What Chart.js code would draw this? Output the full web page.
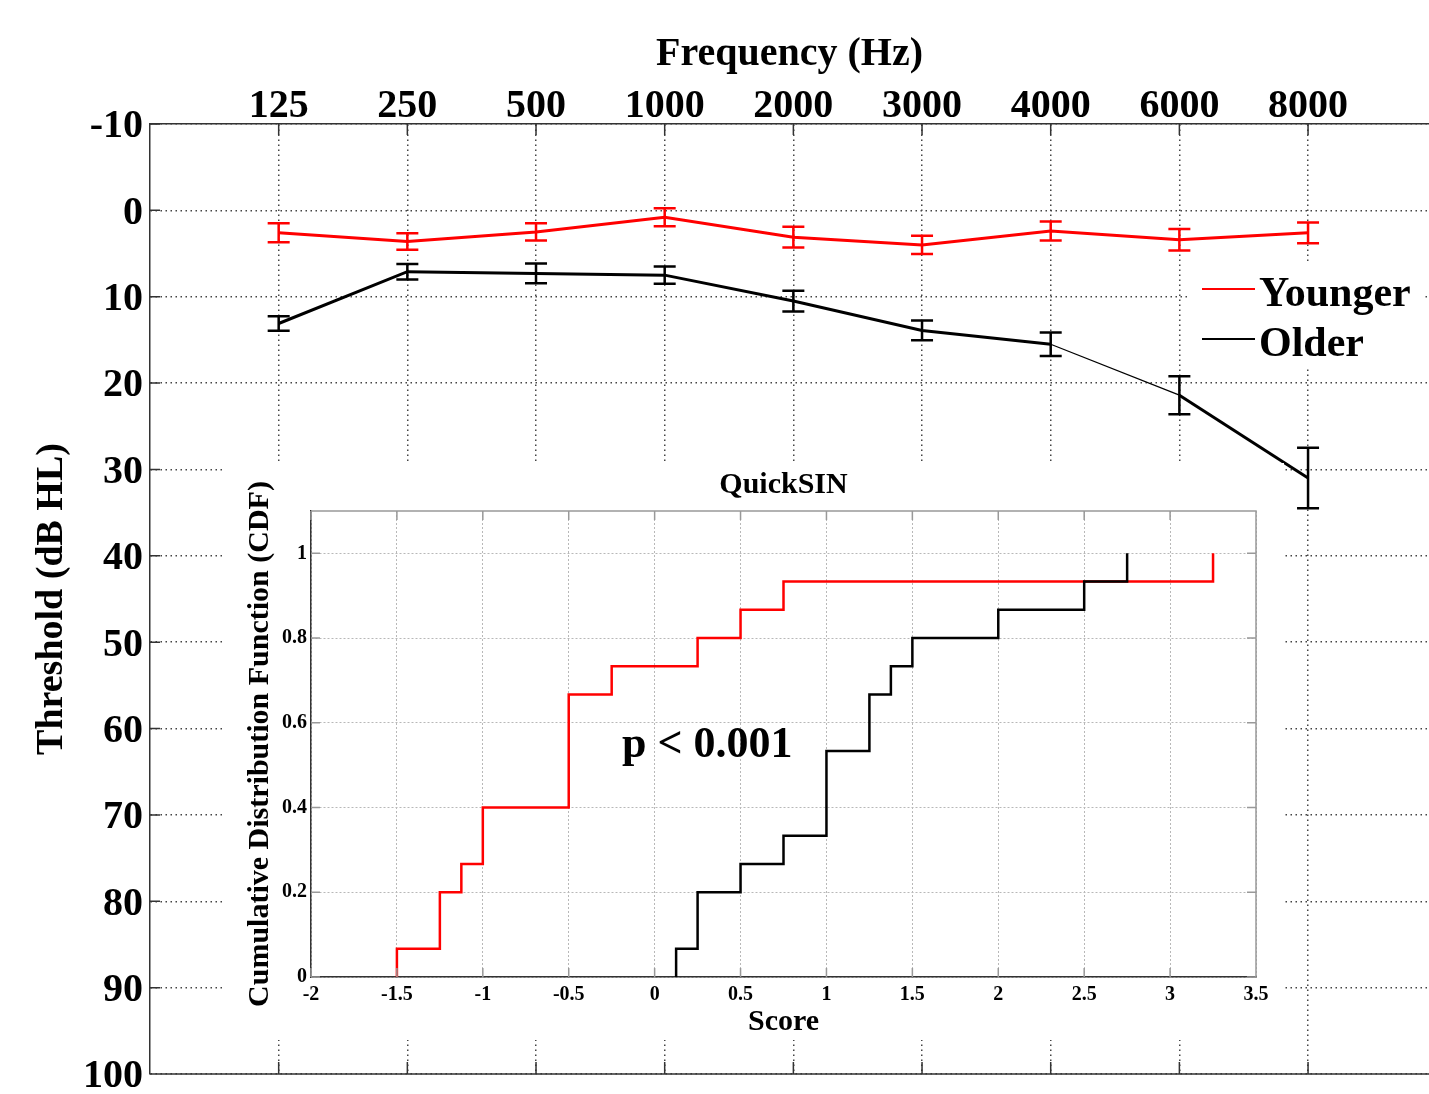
<!DOCTYPE html>
<html>
<head>
<meta charset="utf-8">
<title>Audiogram and QuickSIN</title>
<script src="https://cdn.jsdelivr.net/npm/chart.js@4.4.1/dist/chart.umd.min.js"></script>
<style>
  html, body { margin: 0; padding: 0; background: #fff; overflow: hidden; }
  #wrap { position: relative; width: 1429px; height: 1094px; }
  #mainChart { position: absolute; left: 0; top: 0; }
  #insetChart { position: absolute; left: 224px; top: 463px; background: #fff; }
</style>
</head>
<body>
<div id="wrap">
  <canvas id="mainChart" width="1429" height="1094"></canvas>
  <canvas id="insetChart" width="1060" height="577"></canvas>
</div>
<script>
// audiogram data (dB HL, mean and error)
const freqLabels = ['125', '250', '500', '1000', '2000', '3000', '4000', '6000', '8000'];
const thresholdTicks = [-10, 0, 10, 20, 30, 40, 50, 60, 70, 80, 90, 100];
const youngerMean = [2.6, 3.6, 2.5, 0.8, 3.1, 4.0, 2.4, 3.4, 2.6];
const youngerErr = [1.1, 0.95, 1.0, 1.05, 1.2, 1.05, 1.1, 1.25, 1.2];
const olderMean = [13.1, 7.1, 7.3, 7.5, 10.5, 13.9, 15.5, 21.4, 31.0];
const olderErr = [0.85, 0.9, 1.15, 1.0, 1.2, 1.15, 1.35, 2.2, 3.5];

// QuickSIN CDF steps (score where the step happens, level after it)
const scoreTicks = [-2, -1.5, -1, -0.5, 0, 0.5, 1, 1.5, 2, 2.5, 3, 3.5];
const cdfTicks = [0, 0.2, 0.4, 0.6, 0.8, 1];
const youngerScore = [-1.5, -1.25, -1.125, -1, -0.5, -0.25, 0.25, 0.5, 0.75, 3.25];
const youngerCdf = [0.0667, 0.2, 0.2667, 0.4, 0.6667, 0.7333, 0.8, 0.8667, 0.9333, 1.0];
const olderScore = [0.125, 0.25, 0.5, 0.75, 1.0, 1.25, 1.375, 1.5, 2.0, 2.5, 2.75];
const olderCdf = [0.0667, 0.2, 0.2667, 0.3333, 0.5333, 0.6667, 0.7333, 0.8, 0.8667, 0.9333, 1.0];

const serif = "'Liberation Serif', 'Times New Roman', serif";
const RED = '#ff0000';
const BLACK = '#000000';

// stairs: start at zero on the first score
function stairs(scores, levels) {
  const pts = [{ x: scores[0], y: 0 }];
  scores.forEach((s, i) => pts.push({ x: s, y: levels[i] }));
  return pts;
}

// error bars with caps
const errorBars = {
  id: 'errorBars',
  afterDatasetsDraw(chart) {
    const ctx = chart.ctx;
    const ys = chart.scales.y;
    chart.data.datasets.forEach((ds, i) => {
      const meta = chart.getDatasetMeta(i);
      ctx.save();
      ctx.strokeStyle = ds.borderColor;
      ctx.lineWidth = 2.5;
      meta.data.forEach((pt, j) => {
        const e = ds.errors[j];
        const y1 = ys.getPixelForValue(ds.data[j].y - e);
        const y2 = ys.getPixelForValue(ds.data[j].y + e);
        ctx.beginPath();
        ctx.moveTo(pt.x, y1); ctx.lineTo(pt.x, y2);
        ctx.moveTo(pt.x - 11, y1); ctx.lineTo(pt.x + 11, y1);
        ctx.moveTo(pt.x - 11, y2); ctx.lineTo(pt.x + 11, y2);
        ctx.stroke();
      });
      ctx.restore();
    });
  }
};

// bottom border, inward ticks and the legend for the audiogram
const mainFrame = {
  id: 'mainFrame',
  afterDraw(chart) {
    const ctx = chart.ctx, a = chart.chartArea;
    const xs = chart.scales.x, ys = chart.scales.y;
    ctx.save();
    ctx.strokeStyle = '#333';
    ctx.lineWidth = 1.5;
    ctx.beginPath();
    ctx.moveTo(a.left, a.bottom); ctx.lineTo(a.right, a.bottom);
    xs.ticks.forEach(t => {
      const x = xs.getPixelForValue(t.value);
      ctx.moveTo(x, a.top); ctx.lineTo(x, a.top + 11);
      ctx.moveTo(x, a.bottom); ctx.lineTo(x, a.bottom - 12);
    });
    ys.ticks.forEach(t => {
      const y = ys.getPixelForValue(t.value);
      ctx.moveTo(a.left, y); ctx.lineTo(a.left + 10, y);
    });
    ctx.stroke();

    // legend
    ctx.fillStyle = '#fff';
    ctx.fillRect(1190, 263, 232, 103);
    ctx.font = 'bold 42px ' + serif;
    ctx.textBaseline = 'alphabetic';
    chart.data.datasets.forEach((ds, i) => {
      const y = 289 + i * 50;
      ctx.strokeStyle = ds.borderColor;
      ctx.lineWidth = 1.8;
      ctx.beginPath(); ctx.moveTo(1202, y); ctx.lineTo(1255, y); ctx.stroke();
      ctx.fillStyle = '#000';
      ctx.fillText(ds.label, 1259, y + 17);
    });
    ctx.restore();
  }
};

// box, inward ticks and p-value note for the inset
const insetFrame = {
  id: 'insetFrame',
  afterDraw(chart) {
    const ctx = chart.ctx, a = chart.chartArea;
    const xs = chart.scales.x, ys = chart.scales.y;
    ctx.save();
    ctx.strokeStyle = '#999';
    ctx.lineWidth = 1.5;
    ctx.beginPath();
    ctx.moveTo(a.left, a.top); ctx.lineTo(a.right, a.top); ctx.lineTo(a.right, a.bottom);
    xs.ticks.forEach(t => {
      const x = xs.getPixelForValue(t.value);
      ctx.moveTo(x, a.top); ctx.lineTo(x, a.top + 9);
      ctx.moveTo(x, a.bottom); ctx.lineTo(x, a.bottom - 9);
    });
    ys.ticks.forEach(t => {
      const y = ys.getPixelForValue(t.value);
      ctx.moveTo(a.left, y); ctx.lineTo(a.left + 9, y);
      ctx.moveTo(a.right, y); ctx.lineTo(a.right - 9, y);
    });
    ctx.stroke();

    ctx.fillStyle = '#000';
    ctx.font = 'bold 44px ' + serif;
    ctx.textBaseline = 'alphabetic';
    ctx.fillText('p < 0.001', xs.getPixelForValue(-0.19), ys.getPixelForValue(0.52));
    ctx.restore();
  }
};

const gridStyle = { color: '#444', lineWidth: 1.5, drawTicks: false };
const boldFont = (size, lh) => ({ family: serif, size: size, weight: 'bold', lineHeight: lh || 1.2 });

new Chart(document.getElementById('mainChart'), {
  type: 'line',
  data: {
    datasets: [
      {
        label: 'Younger',
        data: youngerMean.map((v, i) => ({ x: i + 1, y: v })),
        errors: youngerErr,
        borderColor: RED,
        borderWidth: 3,
        pointRadius: 0
      },
      {
        label: 'Older',
        data: olderMean.map((v, i) => ({ x: i + 1, y: v })),
        errors: olderErr,
        borderColor: BLACK,
        borderWidth: 3,
        pointRadius: 0,
        segment: { borderWidth: c => (c.p0DataIndex === 6 ? 1.2 : 3) }
      }
    ]
  },
  options: {
    responsive: false,
    animation: false,
    layout: { padding: { left: 0, right: 0, top: 0, bottom: 20 } },
    plugins: { legend: { display: false }, tooltip: { enabled: false } },
    scales: {
      x: {
        type: 'linear',
        position: 'top',
        min: 0,
        max: 9.94,
        afterBuildTicks: s => { s.ticks = freqLabels.map((_, i) => ({ value: i + 1 })); },
        afterFit: s => { s.height = 124; },
        ticks: {
          callback: v => freqLabels[v - 1],
          font: boldFont(40, 1),
          color: '#000',
          padding: -3,
          maxRotation: 0,
          autoSkip: false
        },
        grid: gridStyle,
        border: { color: '#333', width: 1.5, dash: [1.5, 3.5] },
        title: {
          display: true,
          text: 'Frequency (Hz)',
          font: boldFont(40),
          color: '#000',
          padding: { top: 31, bottom: 0 }
        }
      },
      y: {
        type: 'linear',
        reverse: true,
        min: -10,
        max: 100,
        afterBuildTicks: s => { s.ticks = thresholdTicks.map(v => ({ value: v })); },
        afterFit: s => { s.width = 150; s.paddingTop = 0; s.paddingBottom = 0; },
        ticks: { font: boldFont(40, 0.3), color: '#000', padding: 7, labelOffset: 3 },
        grid: gridStyle,
        border: { color: '#333', width: 1.5, dash: [1.5, 3.5] },
        title: {
          display: true,
          text: 'Threshold (dB HL)',
          font: boldFont(38),
          color: '#000',
          padding: { top: 29, bottom: 0 }
        }
      }
    }
  },
  plugins: [errorBars, mainFrame]
});

const insetGrid = { color: '#b8b8b8', lineWidth: 1, drawTicks: false };

new Chart(document.getElementById('insetChart'), {
  type: 'line',
  data: {
    datasets: [
      {
        label: 'Older',
        data: stairs(olderScore, olderCdf),
        borderColor: BLACK,
        borderWidth: 2.5,
        pointRadius: 0,
        stepped: 'before',
        order: 0
      },
      {
        label: 'Younger',
        data: stairs(youngerScore, youngerCdf),
        borderColor: RED,
        borderWidth: 2.5,
        pointRadius: 0,
        stepped: 'before',
        order: 1
      }
    ]
  },
  options: {
    responsive: false,
    animation: false,
    layout: { padding: { left: 0, right: 28, top: 0, bottom: 0 } },
    plugins: { legend: { display: false }, tooltip: { enabled: false } },
    scales: {
      top: {
        type: 'linear',
        position: 'top',
        min: -2,
        max: 3.5,
        afterFit: s => { s.height = 48; },
        ticks: { display: false },
        grid: { display: false },
        border: { display: false },
        title: {
          display: true,
          text: 'QuickSIN',
          font: boldFont(30),
          color: '#000',
          padding: { top: 4, bottom: 0 }
        }
      },
      x: {
        type: 'linear',
        position: 'bottom',
        min: -2,
        max: 3.5,
        afterBuildTicks: s => { s.ticks = scoreTicks.map(v => ({ value: v })); },
        afterFit: s => { s.height = 63; },
        ticks: {
          callback: v => String(v),
          font: boldFont(20),
          color: '#000',
          padding: 6,
          maxRotation: 0,
          autoSkip: false
        },
        grid: insetGrid,
        border: { color: '#333', width: 1.5, dash: [2, 2] },
        title: {
          display: true,
          text: 'Score',
          font: boldFont(30),
          color: '#000',
          padding: { top: 0, bottom: 0 }
        }
      },
      y: {
        type: 'linear',
        min: 0,
        max: 1.1,
        afterBuildTicks: s => { s.ticks = cdfTicks.map(v => ({ value: v })); },
        afterFit: s => { s.width = 87; },
        ticks: {
          callback: v => String(v),
          font: boldFont(20),
          color: '#000',
          padding: 4
        },
        grid: insetGrid,
        border: { color: '#333', width: 1.5, dash: [2, 2] },
        title: {
          display: true,
          text: 'Cumulative Distribution Function (CDF)',
          font: boldFont(30),
          color: '#000',
          padding: { top: 18, bottom: 0 }
        }
      }
    }
  },
  plugins: [insetFrame]
});
</script>
</body>
</html>
